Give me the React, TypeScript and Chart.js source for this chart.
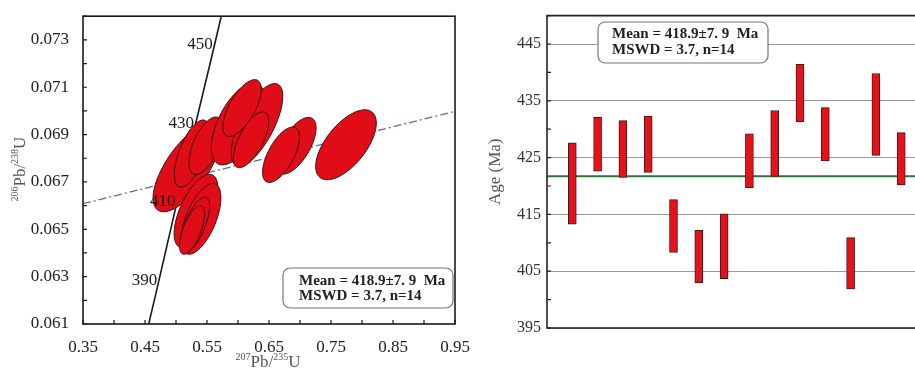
import React, { useEffect, useRef } from "react";
import { Chart, registerables } from "chart.js";
Chart.register(...registerables);

const SERIF = '"Liberation Serif", "Times New Roman", serif';

// ---------- Left panel: concordia diagram ----------
const concordiaX = [0.456, 0.4683, 0.4974, 0.5273, 0.5577, 0.573];
const concordiaY = [0.061, 0.06237, 0.06567, 0.06898, 0.0723, 0.074];
const ageLabels = ["390", "410", "430", "450"];
const ageLabelX = [0.4683, 0.4974, 0.5273, 0.5577];
const ageLabelY = [0.06237, 0.06567, 0.06898, 0.0723];
const discordiaX = [0.35, 0.95];
const discordiaY = [0.06608, 0.06998];

// ellipse centres (207Pb/235U, 206Pb/238U), half-extents and correlation
const ellX = [0.5177, 0.5258, 0.5484, 0.5323, 0.5403, 0.5306, 0.5258, 0.6, 0.6306, 0.6065, 0.621, 0.6935, 0.6694, 0.7742];
const ellY = [0.06761, 0.0682, 0.06853, 0.06577, 0.06544, 0.06518, 0.06497, 0.06945, 0.06941, 0.07012, 0.06878, 0.06853, 0.06815, 0.06857];
const ellSx = [0.0547, 0.0285, 0.0274, 0.0353, 0.0321, 0.0235, 0.0202, 0.0431, 0.0416, 0.031, 0.0285, 0.0324, 0.0298, 0.0489];
const ellSy = [0.00187, 0.001418, 0.001213, 0.001552, 0.001494, 0.001176, 0.001025, 0.001732, 0.001745, 0.001201, 0.00118, 0.001197, 0.001172, 0.001477];
const ellRho = [0.69, 0.628, 0.578, 0.615, 0.596, 0.677, 0.65, 0.58, 0.69, 0.658, 0.662, 0.624, 0.634, 0.619];

const ratioXTicks = [0.35, 0.45, 0.55, 0.65, 0.75, 0.85, 0.95];
const ratioYTicks = [0.061, 0.063, 0.065, 0.067, 0.069, 0.071, 0.073];
const ratioXMinor = [0.35, 0.4, 0.45, 0.5, 0.55, 0.6, 0.65, 0.7, 0.75, 0.8, 0.85, 0.9, 0.95];
const ratioYMinor = [0.061, 0.062, 0.063, 0.064, 0.065, 0.066, 0.067, 0.068, 0.069, 0.07, 0.071, 0.072, 0.073, 0.074];
const xTitleParts = ["207", "Pb/", "235", "U"];
const yTitleParts = ["206", "Pb/", "238", "U"];

// ---------- Right panel: weighted mean ages ----------
const grains = [1, 2, 3, 4, 5, 6, 7, 8, 9, 10, 11, 12, 13, 14];
const ageLow = [413.3, 422.6, 421.5, 422.4, 408.3, 403.0, 403.7, 419.7, 421.7, 431.3, 424.4, 401.9, 425.4, 420.2];
const ageHigh = [427.6, 432.1, 431.5, 432.3, 417.6, 412.2, 415.1, 429.2, 433.3, 441.4, 433.8, 410.9, 439.8, 429.4];
const meanAge = 421.7;
const ageTicks = [395, 405, 415, 425, 435, 445];
const ageMinor = [395, 400, 405, 410, 415, 420, 425, 430, 435, 440, 445, 450];
const grainAxisMax = 14.545;

const boxLines = ["Mean = 418.9\u00B17. 9  Ma", "MSWD = 3.7, n=14"];

function drawBox(ctx: CanvasRenderingContext2D, bx: number, by: number, bw: number, bh: number, tx: number, l1: number, l2: number) {
  ctx.save();
  ctx.beginPath();
  (ctx as any).roundRect(bx, by, bw, bh, 7);
  ctx.fillStyle = "#fff";
  ctx.fill();
  ctx.strokeStyle = "#777";
  ctx.lineWidth = 1.2;
  ctx.stroke();
  ctx.font = `bold 15px ${SERIF}`;
  ctx.fillStyle = "#222";
  ctx.textAlign = "left";
  ctx.textBaseline = "middle";
  ctx.fillText(boxLines[0], tx, l1);
  ctx.fillText(boxLines[1], tx, l2);
  ctx.restore();
}

// draws "sup main sup main" centred on the current origin, baseline at 0
function drawRatioTitle(ctx: CanvasRenderingContext2D, parts: string[]) {
  const big = `17px ${SERIF}`;
  const small = `10px ${SERIF}`;
  const fonts = [small, big, small, big];
  const rise = [-7, 0, -7, 0];
  const widths = parts.map((p, i) => {
    ctx.font = fonts[i];
    return ctx.measureText(p).width;
  });
  const total = widths.reduce((s, w) => s + w, 0);
  let x = -total / 2;
  ctx.textAlign = "left";
  ctx.textBaseline = "alphabetic";
  ctx.fillStyle = "#555";
  parts.forEach((p, i) => {
    ctx.font = fonts[i];
    ctx.fillText(p, x, rise[i]);
    x += widths[i];
  });
}

const concordiaPlugin = {
  id: "concordiaDecor",
  afterDatasetsDraw(chart: any) {
    const { ctx, chartArea: a } = chart;
    const xs = chart.scales.x;
    const ys = chart.scales.y;
    ctx.save();
    ctx.beginPath();
    ctx.rect(a.left, a.top, a.right - a.left, a.bottom - a.top);
    ctx.clip();
    for (let i = 0; i < ellX.length; i++) {
      const k = Math.sqrt(1 - ellRho[i] * ellRho[i]);
      ctx.beginPath();
      for (let j = 0; j <= 120; j++) {
        const t = (j / 120) * Math.PI * 2;
        const dx = ellX[i] + ellSx[i] * Math.cos(t);
        const dy = ellY[i] + ellSy[i] * (ellRho[i] * Math.cos(t) + k * Math.sin(t));
        const px = xs.getPixelForValue(dx);
        const py = ys.getPixelForValue(dy);
        if (j === 0) ctx.moveTo(px, py);
        else ctx.lineTo(px, py);
      }
      ctx.closePath();
      ctx.fillStyle = "#e00d18";
      ctx.fill();
      ctx.lineWidth = 1;
      ctx.strokeStyle = "#3a0a0a";
      ctx.stroke();
    }
    ctx.restore();
    ctx.save();
    ctx.font = `17px ${SERIF}`;
    ctx.fillStyle = "#1a1a1a";
    ctx.textAlign = "right";
    ctx.textBaseline = "middle";
    ageLabels.forEach((t, i) => {
      ctx.fillText(t, xs.getPixelForValue(ageLabelX[i]) + 1, ys.getPixelForValue(ageLabelY[i]) - 11.5);
    });
    ctx.restore();
  },
  afterDraw(chart: any) {
    const { ctx, chartArea: a } = chart;
    const xs = chart.scales.x;
    const ys = chart.scales.y;
    ctx.save();
    ctx.strokeStyle = "#1a1a1a";
    ctx.lineWidth = 1.6;
    ctx.strokeRect(a.left, a.top, a.right - a.left, a.bottom - a.top);
    ctx.lineWidth = 1.2;
    ctx.beginPath();
    ratioXMinor.forEach((v) => {
      const px = xs.getPixelForValue(v);
      ctx.moveTo(px, a.bottom);
      ctx.lineTo(px, a.bottom - 4);
    });
    ratioYMinor.forEach((v) => {
      const py = ys.getPixelForValue(v);
      ctx.moveTo(a.left, py);
      ctx.lineTo(a.left + 4, py);
    });
    ctx.stroke();
    ctx.restore();

    // axis titles with superscript mass numbers
    ctx.save();
    ctx.translate((a.left + a.right) / 2 - 1, 367);
    drawRatioTitle(ctx, xTitleParts);
    ctx.restore();
    ctx.save();
    ctx.translate(25, (a.top + a.bottom) / 2 - 1);
    ctx.rotate(-Math.PI / 2);
    drawRatioTitle(ctx, yTitleParts);
    ctx.restore();

    drawBox(ctx, 283, 268, 170, 40, 299, 281, 296);
  },
};

const agePlugin = {
  id: "ageDecor",
  afterDraw(chart: any) {
    const { ctx, chartArea: a } = chart;
    const ys = chart.scales.y;
    ctx.save();
    ctx.strokeStyle = "#222";
    ctx.lineWidth = 1.6;
    ctx.beginPath();
    ctx.moveTo(a.right + 2, a.top);
    ctx.lineTo(a.left, a.top);
    ctx.lineTo(a.left, a.bottom);
    ctx.lineTo(a.right + 2, a.bottom);
    ctx.stroke();
    ctx.lineWidth = 1.2;
    ctx.beginPath();
    ageMinor.forEach((v) => {
      const py = ys.getPixelForValue(v);
      ctx.moveTo(a.left, py);
      ctx.lineTo(a.left + 4, py);
    });
    ctx.stroke();
    ctx.restore();
    drawBox(ctx, 128, 22, 170, 41, 142, 34, 50);
  },
};

export default function App() {
  const leftRef = useRef<HTMLCanvasElement>(null);
  const rightRef = useRef<HTMLCanvasElement>(null);

  useEffect(() => {
    const left = new Chart(leftRef.current as HTMLCanvasElement, {
      type: "scatter",
      data: {
        datasets: [
          {
            data: concordiaX.map((x, i) => ({ x, y: concordiaY[i] })),
            showLine: true,
            borderColor: "#1a1a1a",
            borderWidth: 1.6,
            pointRadius: 0,
            tension: 0,
          },
          {
            data: discordiaX.map((x, i) => ({ x, y: discordiaY[i] })),
            showLine: true,
            borderColor: "#5f6f9f",
            borderWidth: 1.3,
            borderDash: [8, 3, 2, 3],
            pointRadius: 0,
          },
        ],
      } as any,
      options: {
        animation: false,
        responsive: false,
        events: [],
        layout: { padding: { top: 13, right: 45, left: 0, bottom: 0 } },
        plugins: { legend: { display: false }, tooltip: { enabled: false } },
        scales: {
          x: {
            type: "linear",
            min: 0.35,
            max: 0.95,
            grid: { display: false },
            border: { display: false },
            afterBuildTicks: (s: any) => {
              s.ticks = ratioXTicks.map((v) => ({ value: v }));
            },
            afterFit: (s: any) => {
              s.height = 45;
            },
            ticks: {
              font: { family: SERIF, size: 17 },
              color: "#222",
              padding: 5,
              maxRotation: 0,
              autoSkip: false,
              callback: (v: any) => Number(v).toFixed(2),
            },
          },
          y: {
            type: "linear",
            min: 0.061,
            max: 0.074,
            grid: { display: false },
            border: { display: false },
            afterBuildTicks: (s: any) => {
              s.ticks = ratioYTicks.map((v) => ({ value: v }));
            },
            afterFit: (s: any) => {
              s.width = 83;
            },
            ticks: {
              font: { family: SERIF, size: 17 },
              color: "#222",
              padding: 6,
              autoSkip: false,
              callback: (v: any) => Number(v).toFixed(3),
            },
          },
        },
      } as any,
      plugins: [concordiaPlugin],
    });

    const right = new Chart(rightRef.current as HTMLCanvasElement, {
      type: "bar",
      data: {
        datasets: [
          {
            type: "line",
            data: [
              { x: 0, y: meanAge },
              { x: grainAxisMax, y: meanAge },
            ],
            borderColor: "#2a7440",
            borderWidth: 2,
            pointRadius: 0,
            order: 2,
          },
          {
            type: "bar",
            data: grains.map((g, i) => ({ x: g, y: [ageLow[i], ageHigh[i]] })),
            backgroundColor: "#e3121b",
            borderColor: "#4a1515",
            borderWidth: 1,
            borderSkipped: false,
            barThickness: 8,
            order: 1,
          },
        ],
      } as any,
      options: {
        animation: false,
        responsive: false,
        events: [],
        layout: { padding: { top: 13, right: 0, left: 0, bottom: 41 } },
        plugins: { legend: { display: false }, tooltip: { enabled: false } },
        scales: {
          x: { type: "linear", min: 0, max: grainAxisMax, display: false, offset: false },
          y: {
            type: "linear",
            min: 395,
            max: 450,
            grid: { color: "#9a9a9a", drawTicks: false, lineWidth: 1 },
            border: { display: false },
            afterBuildTicks: (s: any) => {
              s.ticks = ageTicks.map((v) => ({ value: v }));
            },
            afterFit: (s: any) => {
              s.width = 77;
            },
            ticks: {
              font: { family: SERIF, size: 16 },
              color: "#333",
              padding: 6,
              autoSkip: false,
            },
            title: {
              display: true,
              text: "Age (Ma)",
              font: { family: SERIF, size: 17 },
              color: "#555",
              padding: { top: 15.8, bottom: 0 },
            },
          },
        },
      } as any,
      plugins: [agePlugin],
    });

    return () => {
      left.destroy();
      right.destroy();
    };
  }, []);

  return (
    <div style={{ position: "fixed", left: 0, top: 0, width: 915, height: 369, background: "#fff", overflow: "hidden" }}>
      <canvas ref={leftRef} width={500} height={369} style={{ position: "absolute", left: 0, top: 0, width: 500, height: 369 }} />
      <canvas ref={rightRef} width={445} height={369} style={{ position: "absolute", left: 470, top: 0, width: 445, height: 369 }} />
    </div>
  );
}
